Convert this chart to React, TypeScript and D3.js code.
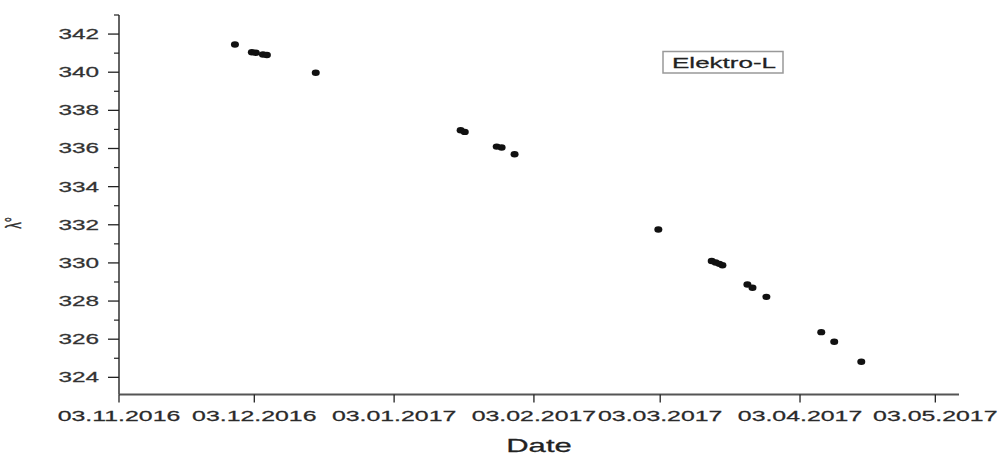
import React from "react";
import * as d3 from "d3";

// Observation epochs and sub-satellite longitude of Elektro-L
const obsDates: string[] = [
  "2016-11-28T17:00", "2016-12-02T11:00", "2016-12-03T08:00", "2016-12-04T22:00",
  "2016-12-05T19:00", "2016-12-16T15:00", "2017-01-17T18:00", "2017-01-18T16:00",
  "2017-01-25T18:00", "2017-01-26T20:00", "2017-01-29T17:00", "2017-03-02T14:00",
  "2017-03-14T10:00", "2017-03-15T07:00", "2017-03-16T03:00", "2017-03-16T19:00",
  "2017-03-22T08:00", "2017-03-23T11:00", "2017-03-26T13:00", "2017-04-07T17:00",
  "2017-04-10T14:00", "2017-04-16T14:00",
];
const longitudes: number[] = [
  341.45, 341.05, 341.02, 340.93,
  340.9, 339.97, 336.96, 336.87,
  336.1, 336.05, 335.7, 331.75,
  330.1, 330.02, 329.95, 329.88,
  328.87, 328.7, 328.22, 326.37,
  325.87, 324.82,
];
const xTickDates: string[] = [
  "2016-11-03", "2016-12-03", "2017-01-03", "2017-02-03",
  "2017-03-03", "2017-04-03", "2017-05-03",
];
const yMajorTicks: number[] = [324, 326, 328, 330, 332, 334, 336, 338, 340, 342];
const yMinorTicks: number[] = [325, 327, 329, 331, 333, 335, 337, 339, 341, 343];
const seriesName = "Elektro-L";
const xTitle = "Date";
const yTitle = "λ°";

const W = 998;
const H = 455;
const SX = 1.68; // horizontal text stretch
const FONT = "'Liberation Sans', Arial, sans-serif";

const parseT = d3.timeParse("%Y-%m-%dT%H:%M");
const parseD = d3.timeParse("%Y-%m-%d");
const fmt = d3.timeFormat("%d.%m.%Y");

const x = d3
  .scaleTime()
  .domain([new Date(2016, 10, 3), new Date(2017, 4, 8, 6)])
  .range([119, 959]);
const y = d3.scaleLinear().domain([323.1, 343]).range([394.5, 15]);

function SText(props: {
  x: number;
  y: number;
  size: number;
  anchor?: string;
  fill?: string;
  rotate?: number;
  children: React.ReactNode;
}) {
  const { x: tx, y: ty, size, anchor = "start", fill = "#2a2a2a", rotate = 0 } = props;
  return (
    <text
      transform={`translate(${tx},${ty}) scale(${SX},1)${rotate ? ` rotate(${rotate})` : ""}`}
      fontSize={size}
      fontFamily={FONT}
      textAnchor={anchor}
      fill={fill}
      stroke={fill}
      strokeWidth={0.25}
    >
      {props.children}
    </text>
  );
}

export default function App() {
  const pts = obsDates.map((d, i) => ({ t: parseT(d) as Date, v: longitudes[i] }));
  const x0 = x.range()[0];
  const y0 = y.range()[0];
  return (
    <svg
      width={W}
      height={H}
      style={{ position: "absolute", left: 0, top: 0, background: "#fff" }}
    >
      {/* y axis */}
      <line x1={x0} x2={x0} y1={y.range()[1]} y2={y0} stroke="#222" strokeWidth={1.4} />
      {yMajorTicks.map((v) => (
        <g key={"ym" + v}>
          <line x1={x0 - 11} x2={x0} y1={y(v)} y2={y(v)} stroke="#222" strokeWidth={1.3} />
          <SText x={x0 - 20} y={y(v) + 5} size={14.5} anchor="end" fill="#333">
            {v}
          </SText>
        </g>
      ))}
      {yMinorTicks.map((v) => (
        <line key={"yn" + v} x1={x0 - 5} x2={x0} y1={y(v)} y2={y(v)} stroke="#222" strokeWidth={1.2} />
      ))}

      {/* x axis */}
      <line x1={x0} x2={x.range()[1]} y1={y0} y2={y0} stroke="#555" strokeWidth={1.8} />
      {xTickDates.map((s) => {
        const d = parseD(s) as Date;
        const px = x(d);
        return (
          <g key={s}>
            <line x1={px} x2={px} y1={y0} y2={y0 + 8} stroke="#222" strokeWidth={1.3} />
            <SText x={px} y={421} size={14.8} anchor="middle" fill="#2a2a2a">
              {fmt(d)}
            </SText>
          </g>
        );
      })}

      {/* axis titles */}
      <SText x={539} y={452} size={18.5} anchor="middle" fill="#222">
        {xTitle}
      </SText>
      <SText x={21} y={223} size={13} anchor="middle" fill="#333" rotate={-90}>
        {yTitle}
      </SText>

      {/* legend */}
      <rect x={663} y={51.5} width={120} height={21.5} fill="#fff" stroke="#999" strokeWidth={1.5} />
      <SText x={672} y={68} size={15.5} anchor="start" fill="#222">
        {seriesName}
      </SText>

      {/* observations */}
      {pts.map((p, i) => (
        <ellipse key={i} cx={x(p.t)} cy={y(p.v)} rx={4} ry={3.2} fill="#111" />
      ))}
    </svg>
  );
}
